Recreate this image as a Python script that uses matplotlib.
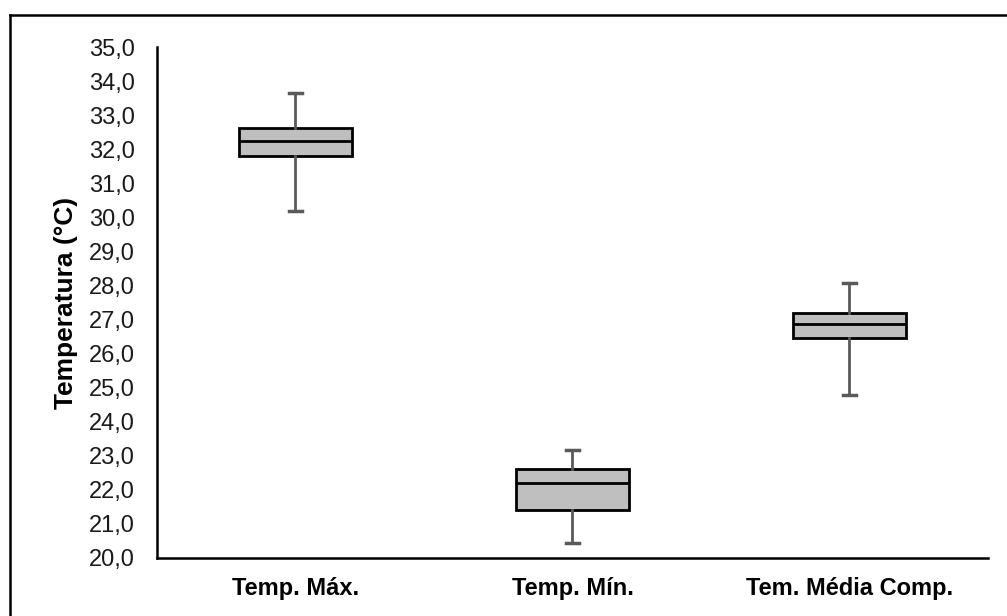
import matplotlib.pyplot as plt
from matplotlib.lines import Line2D

plt.rcParams['font.family'] = ['Liberation Sans', 'DejaVu Sans']

# Data
categories = ['Temp. Máx.', 'Temp. Mín.', 'Tem. Média Comp.']
whisker_low = [30.2, 20.45, 24.77]
q1 = [31.8, 21.42, 26.47]
median = [32.25, 22.2, 26.87]
q3 = [32.63, 22.6, 27.18]
whisker_high = [33.65, 23.17, 28.08]
yticks = [20 + i for i in range(16)]

stats = []
for i, name in enumerate(categories):
    stats.append(dict(label=name, whislo=whisker_low[i], q1=q1[i], med=median[i],
                      q3=q3[i], whishi=whisker_high[i], fliers=[]))

fig = plt.figure(figsize=(10.07, 6.16), dpi=100)
ax = fig.add_axes([0.1559, 0.0942, 0.8252, 0.8295])

ax.bxp(stats, positions=range(len(categories)), widths=0.405, capwidths=0.045,
       patch_artist=True, showfliers=False,
       boxprops=dict(facecolor='#bfbfbf', edgecolor='black', linewidth=2.0),
       medianprops=dict(color='black', linewidth=2.0),
       whiskerprops=dict(color='#5a5a5a', linewidth=2.0),
       capprops=dict(color='#5a5a5a', linewidth=2.5))

ax.set_xlim(-0.5, 2.5)
ax.set_ylim(20, 35)
ax.set_yticks(yticks)
ax.set_yticklabels([f'{v:.1f}'.replace('.', ',') for v in yticks], fontsize=17)
ax.set_xticks(range(len(categories)))
ax.set_xticklabels(categories, fontsize=17, fontweight='bold')
ax.tick_params(axis='y', length=0, pad=16, colors='#1a1a1a')
ax.tick_params(axis='x', length=0, pad=14)
ax.set_ylabel('Temperatura (°C)', fontsize=19, fontweight='bold', labelpad=8)

for s in ['top', 'right']:
    ax.spines[s].set_visible(False)
for s in ['left', 'bottom']:
    ax.spines[s].set_linewidth(1.8)
    ax.spines[s].set_color('black')

# outer frame (cut off at right and bottom)
fig.add_artist(Line2D([10 / 1007, 1.0], [1 - 15 / 616, 1 - 15 / 616], color='black', lw=1.8))
fig.add_artist(Line2D([10 / 1007, 10 / 1007], [0.0, 1 - 15 / 616], color='black', lw=1.8))

fig.savefig('out.png', dpi=100)
